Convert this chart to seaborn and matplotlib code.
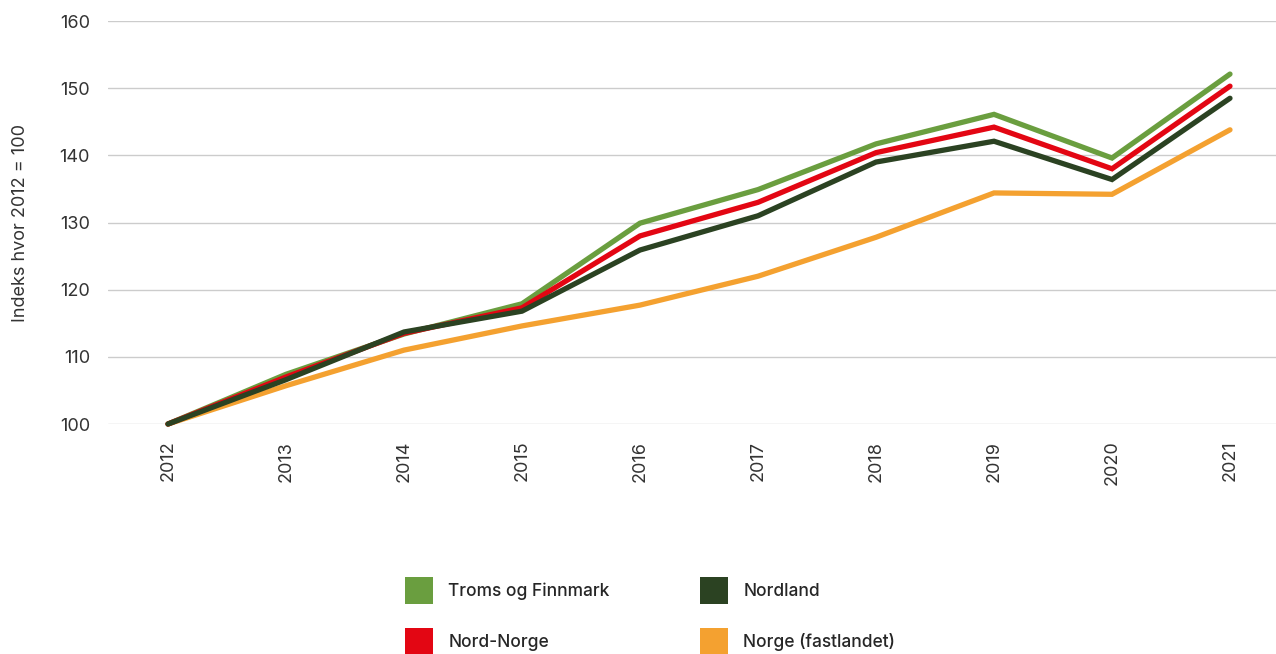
import numpy as np
import pandas as pd
import matplotlib
matplotlib.use("Agg")
import matplotlib.pyplot as plt
import seaborn as sns
from matplotlib.patches import Patch

# data
years = [2012, 2013, 2014, 2015, 2016, 2017, 2018, 2019, 2020, 2021]
troms_finnmark = [100, 107.4, 113.4, 117.9, 129.9, 134.9, 141.7, 146.1, 139.6, 152.1]
nord_norge = [100, 107.0, 113.5, 117.3, 128.0, 133.0, 140.4, 144.2, 138.0, 150.3]
nordland = [100, 106.6, 113.7, 116.8, 125.9, 131.0, 139.0, 142.1, 136.4, 148.5]
norge_fastland = [100, 105.7, 111.0, 114.6, 117.7, 122.0, 127.8, 134.4, 134.2, 143.8]

series_names = ["Troms og Finnmark", "Nord-Norge", "Nordland", "Norge (fastlandet)"]
colors = {"Troms og Finnmark": "#6a9e3f", "Nord-Norge": "#e30613",
          "Nordland": "#2b4222", "Norge (fastlandet)": "#f4a130"}

df = pd.DataFrame({"år": years,
                   "Troms og Finnmark": troms_finnmark,
                   "Nord-Norge": nord_norge,
                   "Nordland": nordland,
                   "Norge (fastlandet)": norge_fastland})
long = df.melt(id_vars="år", var_name="serie", value_name="indeks")
long["pos"] = long["år"] - years[0]

sns.set_style("white")
plt.rcParams['font.family'] = ['Inter', 'DejaVu Sans']

fig = plt.figure(figsize=(12.76, 6.54), dpi=100)
ax = fig.add_axes([108 / 1276, 1 - 424 / 654, 1 - 108 / 1276, (424 - 21) / 654])

# tegnerekkefølge: oransje nederst, Nordland øverst
draw_order = ["Norge (fastlandet)", "Troms og Finnmark", "Nord-Norge", "Nordland"]
sns.lineplot(data=long, x="pos", y="indeks", hue="serie", hue_order=draw_order,
             palette=colors, linewidth=3.8, ax=ax, legend=False)
for ln in ax.lines:
    ln.set_clip_on(False)
    ln.set_solid_joinstyle("miter")

ax.set_ylim(100, 160)
ax.set_yticks(range(100, 161, 10))
ax.set_xlim(-60 / 118, 9 + 46 / 118)
ax.set_xticks(range(len(years)))
ax.set_xticklabels([str(y) for y in years], rotation=90)
ax.grid(axis="y", color="#cccccc", linewidth=1)
ax.grid(axis="x", visible=False)
ax.set_axisbelow(True)
for s in ax.spines.values():
    s.set_visible(False)
ax.tick_params(axis="both", length=0, labelsize=13, colors="#333333")
ax.tick_params(axis="y", pad=13)
ax.tick_params(axis="x", pad=12)
ax.set_xlabel("")
ax.set_ylabel("Indeks hvor 2012 = 100", fontsize=13, color="#333333", labelpad=22)

handles = [Patch(facecolor=colors[n], edgecolor="none", label=n) for n in series_names]
fig.legend(handles=handles, ncol=2, loc="center", bbox_to_anchor=(650 / 1276, 1 - 616 / 654),
           frameon=False, handlelength=1.6, handleheight=2.0,
           handletextpad=0.9, labelspacing=1.4, columnspacing=5.2,
           prop={"weight": "medium", "size": 12.5})

fig.savefig("out.png", dpi=100)
